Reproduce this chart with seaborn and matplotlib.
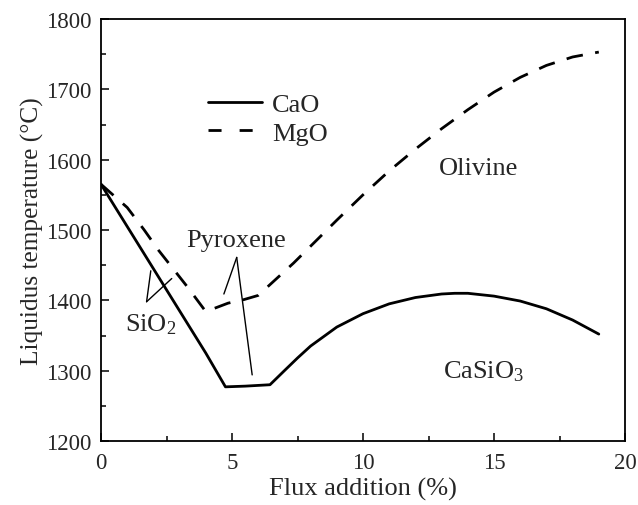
import matplotlib
matplotlib.use("Agg")
import matplotlib.pyplot as plt
from matplotlib.ticker import MultipleLocator
import pandas as pd
import seaborn as sns

# Liquidus temperature vs. flux addition
cao_x = [0.0, 1.0, 2.0, 3.0, 4.0, 4.75, 5.5, 6.45, 7.0, 7.5, 8.0, 9.0, 10.0, 11.0, 12.0, 13.0, 13.5, 14.0, 15.0, 16.0, 17.0, 18.0, 19.0]
cao_y = [1565, 1505, 1445, 1385, 1325, 1277, 1278, 1280, 1300, 1318, 1335, 1362, 1381, 1395, 1404, 1409, 1410, 1410, 1406, 1399, 1388, 1372, 1352]

mgo_x = [0.0, 1.0, 1.65, 2.2, 3.3, 4.0, 4.85, 5.45, 6.0, 7.35, 8.0, 9.0, 10.0, 11.0, 12.0, 13.0, 14.0, 15.0, 16.0, 17.0, 18.0, 19.0]
mgo_y = [1565, 1532, 1500, 1471, 1419, 1384, 1396, 1401, 1407, 1453, 1477, 1514, 1550, 1584, 1615, 1644, 1671, 1696, 1717, 1734, 1746, 1753]

series_names = ["CaO", "MgO"]

df = pd.concat([
    pd.DataFrame({"x": cao_x, "y": cao_y, "flux": series_names[0]}),
    pd.DataFrame({"x": mgo_x, "y": mgo_y, "flux": series_names[1]}),
])

sns.set_style("ticks")
plt.rcParams["font.family"] = ["Liberation Serif", "DejaVu Serif"]
plt.rcParams["mathtext.fontset"] = "custom"
plt.rcParams["mathtext.rm"] = "Liberation Serif"
plt.rcParams["mathtext.it"] = "Liberation Serif:italic"
plt.rcParams["axes.linewidth"] = 1.3

TXT = 19
TICK = 16.5

fig, ax = plt.subplots(figsize=(6.38, 5.06), dpi=100)
fig.subplots_adjust(left=101 / 638, right=625 / 638, top=1 - 20 / 506, bottom=1 - 442 / 506)

sns.lineplot(data=df, x="x", y="y", style="flux", style_order=series_names,
             dashes={"CaO": "", "MgO": (6, 4.5)}, color="black", linewidth=2.0,
             sort=False, estimator=None, ax=ax)

ax.set_xlim(0, 20)
ax.set_ylim(1200, 1800)
ax.xaxis.set_major_locator(MultipleLocator(5))
ax.xaxis.set_minor_locator(MultipleLocator(2.5))
ax.yaxis.set_major_locator(MultipleLocator(100))
ax.yaxis.set_minor_locator(MultipleLocator(50))
ax.tick_params(which="both", direction="in", top=False, right=False, labelsize=TICK, width=1.3)
ax.tick_params(which="major", length=6)
ax.tick_params(axis="y", which="major", pad=7)
ax.tick_params(axis="x", which="major", pad=8)
ax.tick_params(which="minor", length=3.5)

ax.set_xlabel("Flux addition (%)", fontsize=TXT, labelpad=3)
ax.set_ylabel("Liquidus temperature (\u00b0C)", fontsize=18.3, labelpad=1)

for s in ax.spines.values():
    s.set_visible(True)
    s.set_color("black")

leg = ax.legend(loc="upper left", bbox_to_anchor=(0.204, 0.826), frameon=False,
                fontsize=TXT, handlelength=2.05, handletextpad=0.38, labelspacing=0.2,
                borderpad=0, borderaxespad=0)
for h in leg.get_lines():
    h.set_linewidth(2.0)
leg.get_lines()[1].set_dashes([4.7, 6.5])

# Phase field labels
ax.text(14.41, 1580, "Olivine", fontsize=TXT, ha="center", va="baseline")
ax.text(14.6, 1290, "CaSiO$_3$", fontsize=TXT, ha="center", va="baseline")
ax.text(5.17, 1477, "Pyroxene", fontsize=TXT, ha="center", va="baseline")
ax.text(1.91, 1357, "SiO$_2$", fontsize=TXT, ha="center", va="baseline")

# Leader lines
ax.plot([5.18, 4.69], [1461, 1409], color="black", lw=1.0)
ax.plot([5.18, 5.77], [1461, 1294], color="black", lw=1.0)
ax.plot([1.74, 1.90], [1398, 1442], color="black", lw=1.0)
ax.plot([1.74, 2.70], [1398, 1431], color="black", lw=1.0)

fig.savefig("out.png", dpi=100)
